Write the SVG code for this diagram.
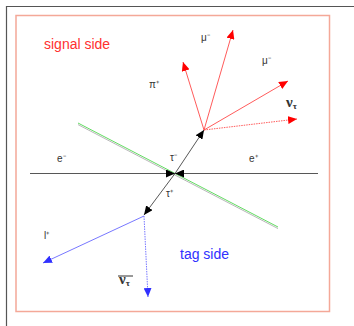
<svg xmlns="http://www.w3.org/2000/svg" width="354" height="326" viewBox="0 0 354 326">
<style>
.lbl{font-family:"Liberation Sans",Arial,sans-serif;font-size:10px;fill:#333}
.big{font-family:"Liberation Sans",Arial,sans-serif;font-size:14px}
.nu{font-family:"Liberation Serif","Times New Roman",serif;font-weight:bold;fill:#333}
.red{stroke:#ff4848;stroke-width:0.9;fill:none}
.blue{stroke:#6868ff;stroke-width:0.9;fill:none}
.blk{stroke:#444;stroke-width:0.9;fill:none}
</style>
<defs>
<marker id="ar" markerUnits="userSpaceOnUse" markerWidth="10" markerHeight="8" refX="9" refY="4" orient="auto"><path d="M0,0 L9,4 L0,8 Z" fill="#ff0000"/></marker>
<marker id="ab" markerUnits="userSpaceOnUse" markerWidth="10" markerHeight="8" refX="9" refY="4" orient="auto"><path d="M0,0 L9,4 L0,8 Z" fill="#3030ff"/></marker>
<marker id="ak" markerUnits="userSpaceOnUse" markerWidth="10" markerHeight="8" refX="9" refY="4" orient="auto"><path d="M0,0 L9,4 L0,8 Z" fill="#000"/></marker>
</defs>
<rect width="354" height="326" fill="#fff"/>
<path d="M6.5,326 V6.5 H354" stroke="#555" stroke-width="1.2" fill="none"/>
<rect x="16" y="15.5" width="313.5" height="296" fill="none" stroke="#f4a898" stroke-width="1.5"/>
<g id="beam">
<line x1="78" y1="124.6" x2="278" y2="228.6" stroke="#b0b0b0" stroke-width="0.9"/>
<line x1="78" y1="123" x2="278" y2="227" stroke="#50d850" stroke-width="0.9"/>
</g>
<g id="connectors">
<line class="blk" x1="30" y1="173.5" x2="175" y2="173.5" marker-end="url(#ak)"/>
<line class="blk" x1="318" y1="173.5" x2="175" y2="173.5" marker-end="url(#ak)"/>
<line class="blk" x1="175" y1="173.5" x2="204" y2="130" marker-end="url(#ak)"/>
<line class="blk" x1="175" y1="173.5" x2="144" y2="215" marker-end="url(#ak)"/>
<line class="red" x1="204" y1="130" x2="183" y2="62" marker-end="url(#ar)"/>
<line class="red" x1="204" y1="130" x2="233" y2="30" marker-end="url(#ar)"/>
<line class="red" x1="204" y1="130" x2="288" y2="81" marker-end="url(#ar)"/>
<line class="red" x1="204" y1="130" x2="297" y2="119" stroke-dasharray="1.5,1" marker-end="url(#ar)"/>
<line class="blue" x1="144" y1="216" x2="43" y2="263" marker-end="url(#ab)"/>
<line class="blue" x1="144" y1="216" x2="148" y2="297" stroke-dasharray="1.5,1" marker-end="url(#ab)"/>
</g>
<g id="signal-side"><text class="big" x="44" y="49" fill="#ff3030">signal side</text></g>
<g id="tag-side"><text class="big" x="180" y="259" fill="#3030ff">tag side</text></g>
<g id="labels">
<text class="lbl" x="201" y="41">μ⁻</text>
<text class="lbl" x="262" y="64">μ⁻</text>
<text class="lbl" x="149" y="88">π⁺</text>
<text class="lbl" x="170" y="161">τ⁻</text>
<text class="lbl" x="166" y="197">τ⁺</text>
<text class="lbl" x="57" y="162">e⁻</text>
<text class="lbl" x="249" y="162">e⁺</text>
<text class="lbl" x="44" y="239">l⁺</text>
<text class="nu" x="286" y="107" font-size="15">ν<tspan font-size="9" dy="2">τ</tspan></text>
<text class="nu" x="119" y="284" font-size="15">ν<tspan font-size="9" dy="2">τ</tspan></text>
<line x1="118" y1="276" x2="133" y2="276" stroke="#333" stroke-width="1"/>
</g>
</svg>
